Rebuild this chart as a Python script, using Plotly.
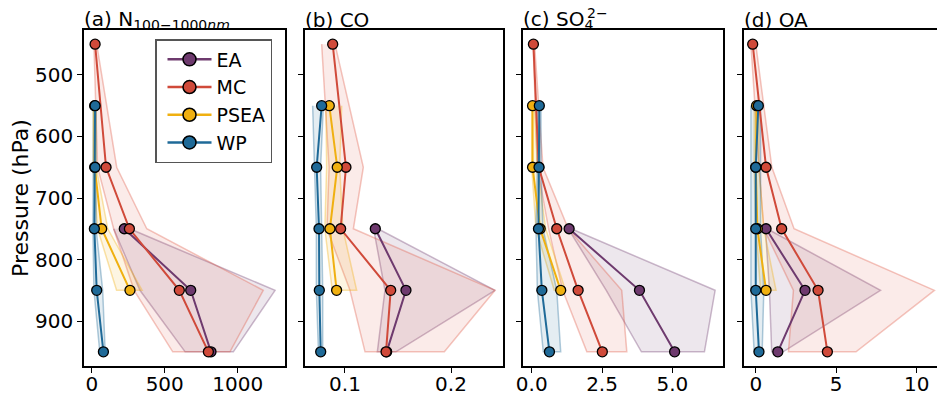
import plotly.graph_objects as go

# ---------------- data ----------------
regions = ["EA", "MC", "PSEA", "WP"]
colors = {"EA": "#6E3A6E", "MC": "#D04A3A", "PSEA": "#F0B010", "WP": "#1F6A98"}
band_rgb = {"EA": "110,58,110", "MC": "224,90,70", "PSEA": "240,176,16", "WP": "31,106,152"}

levels = {
    "EA": [750, 850, 950],
    "MC": [450, 650, 750, 850, 950],
    "PSEA": [550, 650, 750, 850],
    "WP": [550, 650, 750, 850, 950],
}

# (a) N100-1000nm
n_mean = {"EA": [223, 678, 817], "MC": [23, 98, 258, 600, 799],
          "PSEA": [20, 20, 68, 262], "WP": [23, 23, 18, 34, 80]}
n_low = {"EA": [150, 330, 640], "MC": [15, 40, 150, 290, 555],
         "PSEA": [10, 10, 40, 170], "WP": [12, 12, 8, 15, 55]}
n_up = {"EA": [260, 1256, 970], "MC": [34, 171, 377, 1175, 947],
        "PSEA": [30, 30, 110, 345], "WP": [30, 30, 30, 75, 92]}

# (b) CO
co_mean = {"EA": [0.1286, 0.1575, 0.1393], "MC": [0.0884, 0.1009, 0.0959, 0.1431, 0.1387],
           "PSEA": [0.0852, 0.0927, 0.0858, 0.0921], "WP": [0.0780, 0.0733, 0.0755, 0.0758, 0.0771]}
co_low = {"EA": [0.127, 0.1377, 0.1305], "MC": [0.078, 0.085, 0.083, 0.1047, 0.1189],
          "PSEA": [0.082, 0.0827, 0.081, 0.088], "WP": [0.0695, 0.071, 0.073, 0.073, 0.075]}
co_up = {"EA": [0.131, 0.2415, 0.148], "MC": [0.0906, 0.1173, 0.1079, 0.2415, 0.1937],
         "PSEA": [0.0969, 0.095, 0.098, 0.111], "WP": [0.0796, 0.077, 0.078, 0.079, 0.079]}

# (c) SO4
so4_mean = {"EA": [1.33, 3.83, 5.08], "MC": [0.06, 0.25, 0.89, 1.65, 2.51],
            "PSEA": [0.03, 0.03, 0.30, 1.03], "WP": [0.27, 0.26, 0.24, 0.36, 0.63]}
so4_low = {"EA": [1.30, 2.65, 3.90], "MC": [0.05, 0.20, 0.60, 1.10, 1.96],
           "PSEA": [0.0, 0.0, 0.15, 0.80], "WP": [0.20, 0.20, 0.15, 0.20, 0.41]}
so4_up = {"EA": [1.40, 6.52, 6.14], "MC": [0.10, 0.40, 1.30, 3.20, 3.38],
          "PSEA": [0.10, 0.20, 0.50, 1.20], "WP": [0.33, 0.33, 0.40, 0.89, 1.03]}

# (d) OA
oa_mean = {"EA": [0.64, 3.06, 1.37], "MC": [-0.19, 0.64, 1.61, 3.87, 4.45],
           "PSEA": [0.05, 0.0, 0.10, 0.64], "WP": [0.16, 0.0, 0.0, 0.0, 0.20]}
oa_low = {"EA": [0.60, 0.85, 0.99], "MC": [-0.30, 0.20, 0.50, 2.34, 2.03],
          "PSEA": [-0.10, -0.10, 0.0, 0.30], "WP": [-0.30, -0.30, -0.30, -0.30, -0.10]}
oa_up = {"EA": [0.70, 7.75, 1.70], "MC": [0.0, 1.00, 2.38, 11.1, 6.23],
         "PSEA": [0.20, 0.20, 0.50, 1.26], "WP": [0.30, 0.30, 0.30, 0.50, 0.40]}

panels = [
    ("(a) N<sub>100−1000<i>nm</i></sub>", n_mean, n_low, n_up, [-53, 1324], [0, 500, 1000], ["0", "500", "1000"]),
    ("(b) CO", co_mean, co_low, co_up, [0.0623, 0.249], [0.1, 0.2], ["0.1", "0.2"]),
    ("(c) SO<sub>4</sub>", so4_mean, so4_low, so4_up, [-0.31, 6.8], [0.0, 2.5, 5.0], ["0.0", "2.5", "5.0"]),
    ("(d) OA", oa_mean, oa_low, oa_up, [-0.73, 11.26], [0, 5, 10], ["0", "5", "10"]),
]

p_ticks = [500, 600, 700, 800, 900]
p_range = [973, 427]

# ---------------- layout geometry ----------------
W, H = 937, 400
x_dom_px = [(84, 285), (305, 503), (523, 723), (744, 937)]
y_dom = [1 - 366 / H, 1 - 30 / H]

fig = go.Figure()
font = "DejaVu Sans"

for i, (title, mean, low, up, xr, xt, xtl) in enumerate(panels):
    n = i + 1
    xa = "x" if n == 1 else f"x{n}"
    ya = "y" if n == 1 else f"y{n}"
    for r in regions:
        lv = levels[r]
        fig.add_trace(go.Scatter(
            x=list(low[r]) + list(up[r])[::-1],
            y=list(lv) + list(lv)[::-1],
            fill="toself", mode="lines",
            fillcolor=f"rgba({band_rgb[r]},0.12)",
            line=dict(color=f"rgba({band_rgb[r]},0.35)", width=1.5),
            hoverinfo="skip", showlegend=False, xaxis=xa, yaxis=ya))
    for r in regions:
        fig.add_trace(go.Scatter(
            x=mean[r], y=levels[r], mode="lines+markers",
            line=dict(color=colors[r], width=2),
            marker=dict(size=10, color=colors[r], line=dict(color="black", width=1.3)),
            showlegend=False, xaxis=xa, yaxis=ya))
    x0, x1 = x_dom_px[i]
    axis_common = dict(showgrid=False, zeroline=False, showline=True, linecolor="black", linewidth=1.7,
                       ticks="outside", ticklen=5, tickwidth=1.4, tickcolor="black", automargin=False,
                       tickfont=dict(family=font, size=20, color="black"))
    fig.layout[f"xaxis{'' if n == 1 else n}"] = dict(
        domain=[x0 / W, min(x1 / W, 1.0)], range=xr, tickvals=xt, ticktext=xtl,
        anchor=ya, mirror=True, ticklabelstandoff=-6, **axis_common)
    fig.layout[f"yaxis{'' if n == 1 else n}"] = dict(
        domain=y_dom, range=p_range, tickvals=p_ticks, showticklabels=(n == 1),
        anchor=xa, mirror=(n != 4), **axis_common)
    fig.add_annotation(text=title, x=(x0 - 2) / W, y=1 - 20 / H, xref="paper", yref="paper",
                       xanchor="left", yanchor="middle", showarrow=False,
                       font=dict(family=font, size=20, color="black"))

# stacked superscript of SO4 2-
fig.add_annotation(text="2−", x=585 / W, y=1 - 13 / H, xref="paper", yref="paper",
                   xanchor="left", yanchor="middle", showarrow=False,
                   font=dict(family=font, size=14, color="black"))

# legend entries
for r in regions:
    fig.add_trace(go.Scatter(
        x=[None], y=[None], mode="lines+markers", name=r,
        line=dict(color=colors[r], width=2.5),
        marker=dict(size=13, color=colors[r], line=dict(color="black", width=1.5)),
        showlegend=True))

fig.add_annotation(text="Pressure (hPa)", x=20 / W, y=1 - 198 / H, xref="paper", yref="paper",
                   textangle=-90, showarrow=False, xanchor="center", yanchor="middle",
                   font=dict(family=font, size=22, color="black"))

fig.update_layout(
    width=W, height=H, margin=dict(l=0, r=0, t=0, b=0, autoexpand=False),
    plot_bgcolor="white", paper_bgcolor="white",
    legend=dict(x=155 / W, y=1 - 39 / H, xanchor="left", yanchor="top",
                bgcolor="white", bordercolor="#555555", borderwidth=1.5,
                font=dict(family=font, size=19, color="black"), itemwidth=44,
                indentation=6, tracegroupgap=0),
)

fig.write_html("out.html")
